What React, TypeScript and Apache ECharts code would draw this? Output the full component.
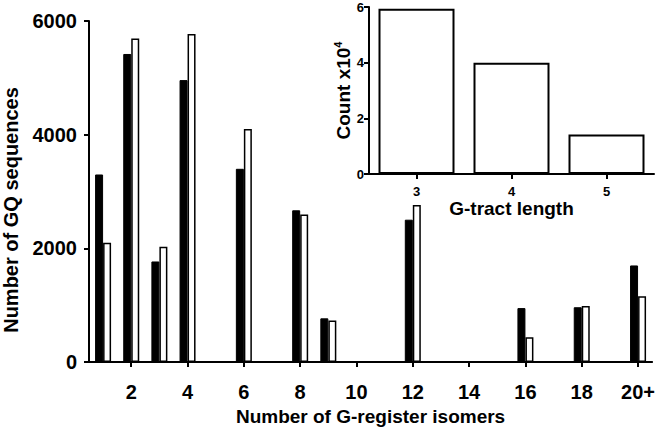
import React, { useEffect, useRef } from "react";
import * as echarts from "echarts";

const categories = ["1","2","3","4","5","6","7","8","9","10","11","12","13","14","15","16","17","18","19","20+"];
const blackValues: (number | null)[] = [3300, 5420, 1770, 4960, null, 3400, null, 2670, 770, null, null, 2505, null, null, null, 950, null, 965, null, 1700];
const whiteValues: (number | null)[] = [2100, 5690, 2030, 5770, null, 4100, null, 2595, 730, null, null, 2765, null, null, null, 435, null, 985, null, 1160];
const yTicks = [0, 2000, 4000, 6000];

const insetCategories = ["3", "4", "5"];
const insetValues = [5.94, 4.0, 1.42];

const FONT = "Liberation Sans, Arial, sans-serif";

export default function App() {
  const ref = useRef<HTMLDivElement>(null);
  useEffect(() => {
    if (!ref.current) return;
    const chart = echarts.init(ref.current, null, { renderer: "svg" });
    const axisLine = { show: true, lineStyle: { color: "#000", width: 2 } };
    const axisTick = { show: true, length: 5, lineStyle: { color: "#000", width: 2 } };
    chart.setOption({
      animation: false,
      backgroundColor: "#fff",
      grid: [
        { left: 89, right: 5, top: 21, bottom: 64, containLabel: false },
        { left: 369, right: 4, top: 7, bottom: 257, containLabel: false },
      ],
      graphic: [
        {
          type: "text",
          x: 11,
          y: 210,
          rotation: Math.PI / 2,
          style: {
            text: "Number of GQ sequences",
            fill: "#000",
            font: "bold 20px Liberation Sans, Arial, sans-serif",
            align: "center",
            verticalAlign: "middle",
          },
        },
      ],
      xAxis: [
        {
          type: "category",
          gridIndex: 0,
          data: categories,
          boundaryGap: true,
          axisLine,
          axisTick: { ...axisTick, alignWithLabel: true, interval: (i: number) => i % 2 === 1 },
          axisLabel: {
            interval: (i: number) => i % 2 === 1,
            color: "#000",
            fontFamily: FONT,
            fontWeight: "bold",
            fontSize: 20,
            margin: 20,
          },
          name: "Number of G-register isomers",
          nameLocation: "middle",
          nameGap: 34,
          nameTextStyle: { color: "#000", fontFamily: FONT, fontWeight: "bold", fontSize: 19 },
          splitLine: { show: false },
        },
        {
          type: "category",
          gridIndex: 1,
          data: insetCategories,
          boundaryGap: true,
          axisLine,
          axisTick: { ...axisTick, alignWithLabel: true },
          axisLabel: { color: "#000", fontFamily: FONT, fontWeight: "bold", fontSize: 13, margin: 11 },
          name: "G-tract length",
          nameLocation: "middle",
          nameGap: 23,
          nameTextStyle: { color: "#000", fontFamily: FONT, fontWeight: "bold", fontSize: 19 },
          splitLine: { show: false },
        },
      ],
      yAxis: [
        {
          type: "value",
          gridIndex: 0,
          min: 0,
          max: 6000,
          interval: 2000,
          axisLine,
          axisTick,
          axisLabel: {
            color: "#000",
            fontFamily: FONT,
            fontWeight: "bold",
            fontSize: 20,
            margin: 12,
            formatter: (v: number) => (yTicks.includes(v) ? String(v) : ""),
          },
          splitLine: { show: false },
        },
        {
          type: "value",
          gridIndex: 1,
          min: 0,
          max: 6,
          interval: 2,
          axisLine,
          axisTick,
          axisLabel: { color: "#000", fontFamily: FONT, fontWeight: "bold", fontSize: 13, margin: 5 },
          name: "{a|Count x10}{s|4}",
          nameLocation: "middle",
          nameGap: 15,
          nameTextStyle: {
            color: "#000",
            fontFamily: FONT,
            fontWeight: "bold",
            fontSize: 19,
            rich: {
              a: { color: "#000", fontFamily: FONT, fontWeight: "bold", fontSize: 19 },
              s: { color: "#000", fontFamily: FONT, fontWeight: "bold", fontSize: 11, verticalAlign: "top", padding: [0, 0, 10, 0] },
            },
          },
          splitLine: { show: false },
        },
      ],
      series: [
        {
          type: "bar",
          xAxisIndex: 0,
          yAxisIndex: 0,
          data: blackValues,
          barWidth: 8,
          barGap: "0%",
          itemStyle: { color: "#000", borderColor: "#000", borderWidth: 1 },
        },
        {
          type: "bar",
          xAxisIndex: 0,
          yAxisIndex: 0,
          data: whiteValues,
          barWidth: 8,
          barGap: "0%",
          itemStyle: { color: "#fff", borderColor: "#000", borderWidth: 1.5 },
        },
        {
          type: "bar",
          xAxisIndex: 1,
          yAxisIndex: 1,
          data: insetValues,
          barWidth: "80%",
          itemStyle: { color: "#fff", borderColor: "#000", borderWidth: 2 },
        },
      ],
    });
    return () => chart.dispose();
  }, []);
  return <div ref={ref} style={{ width: 658, height: 431, position: "absolute", left: 0, top: 0 }} />;
}
